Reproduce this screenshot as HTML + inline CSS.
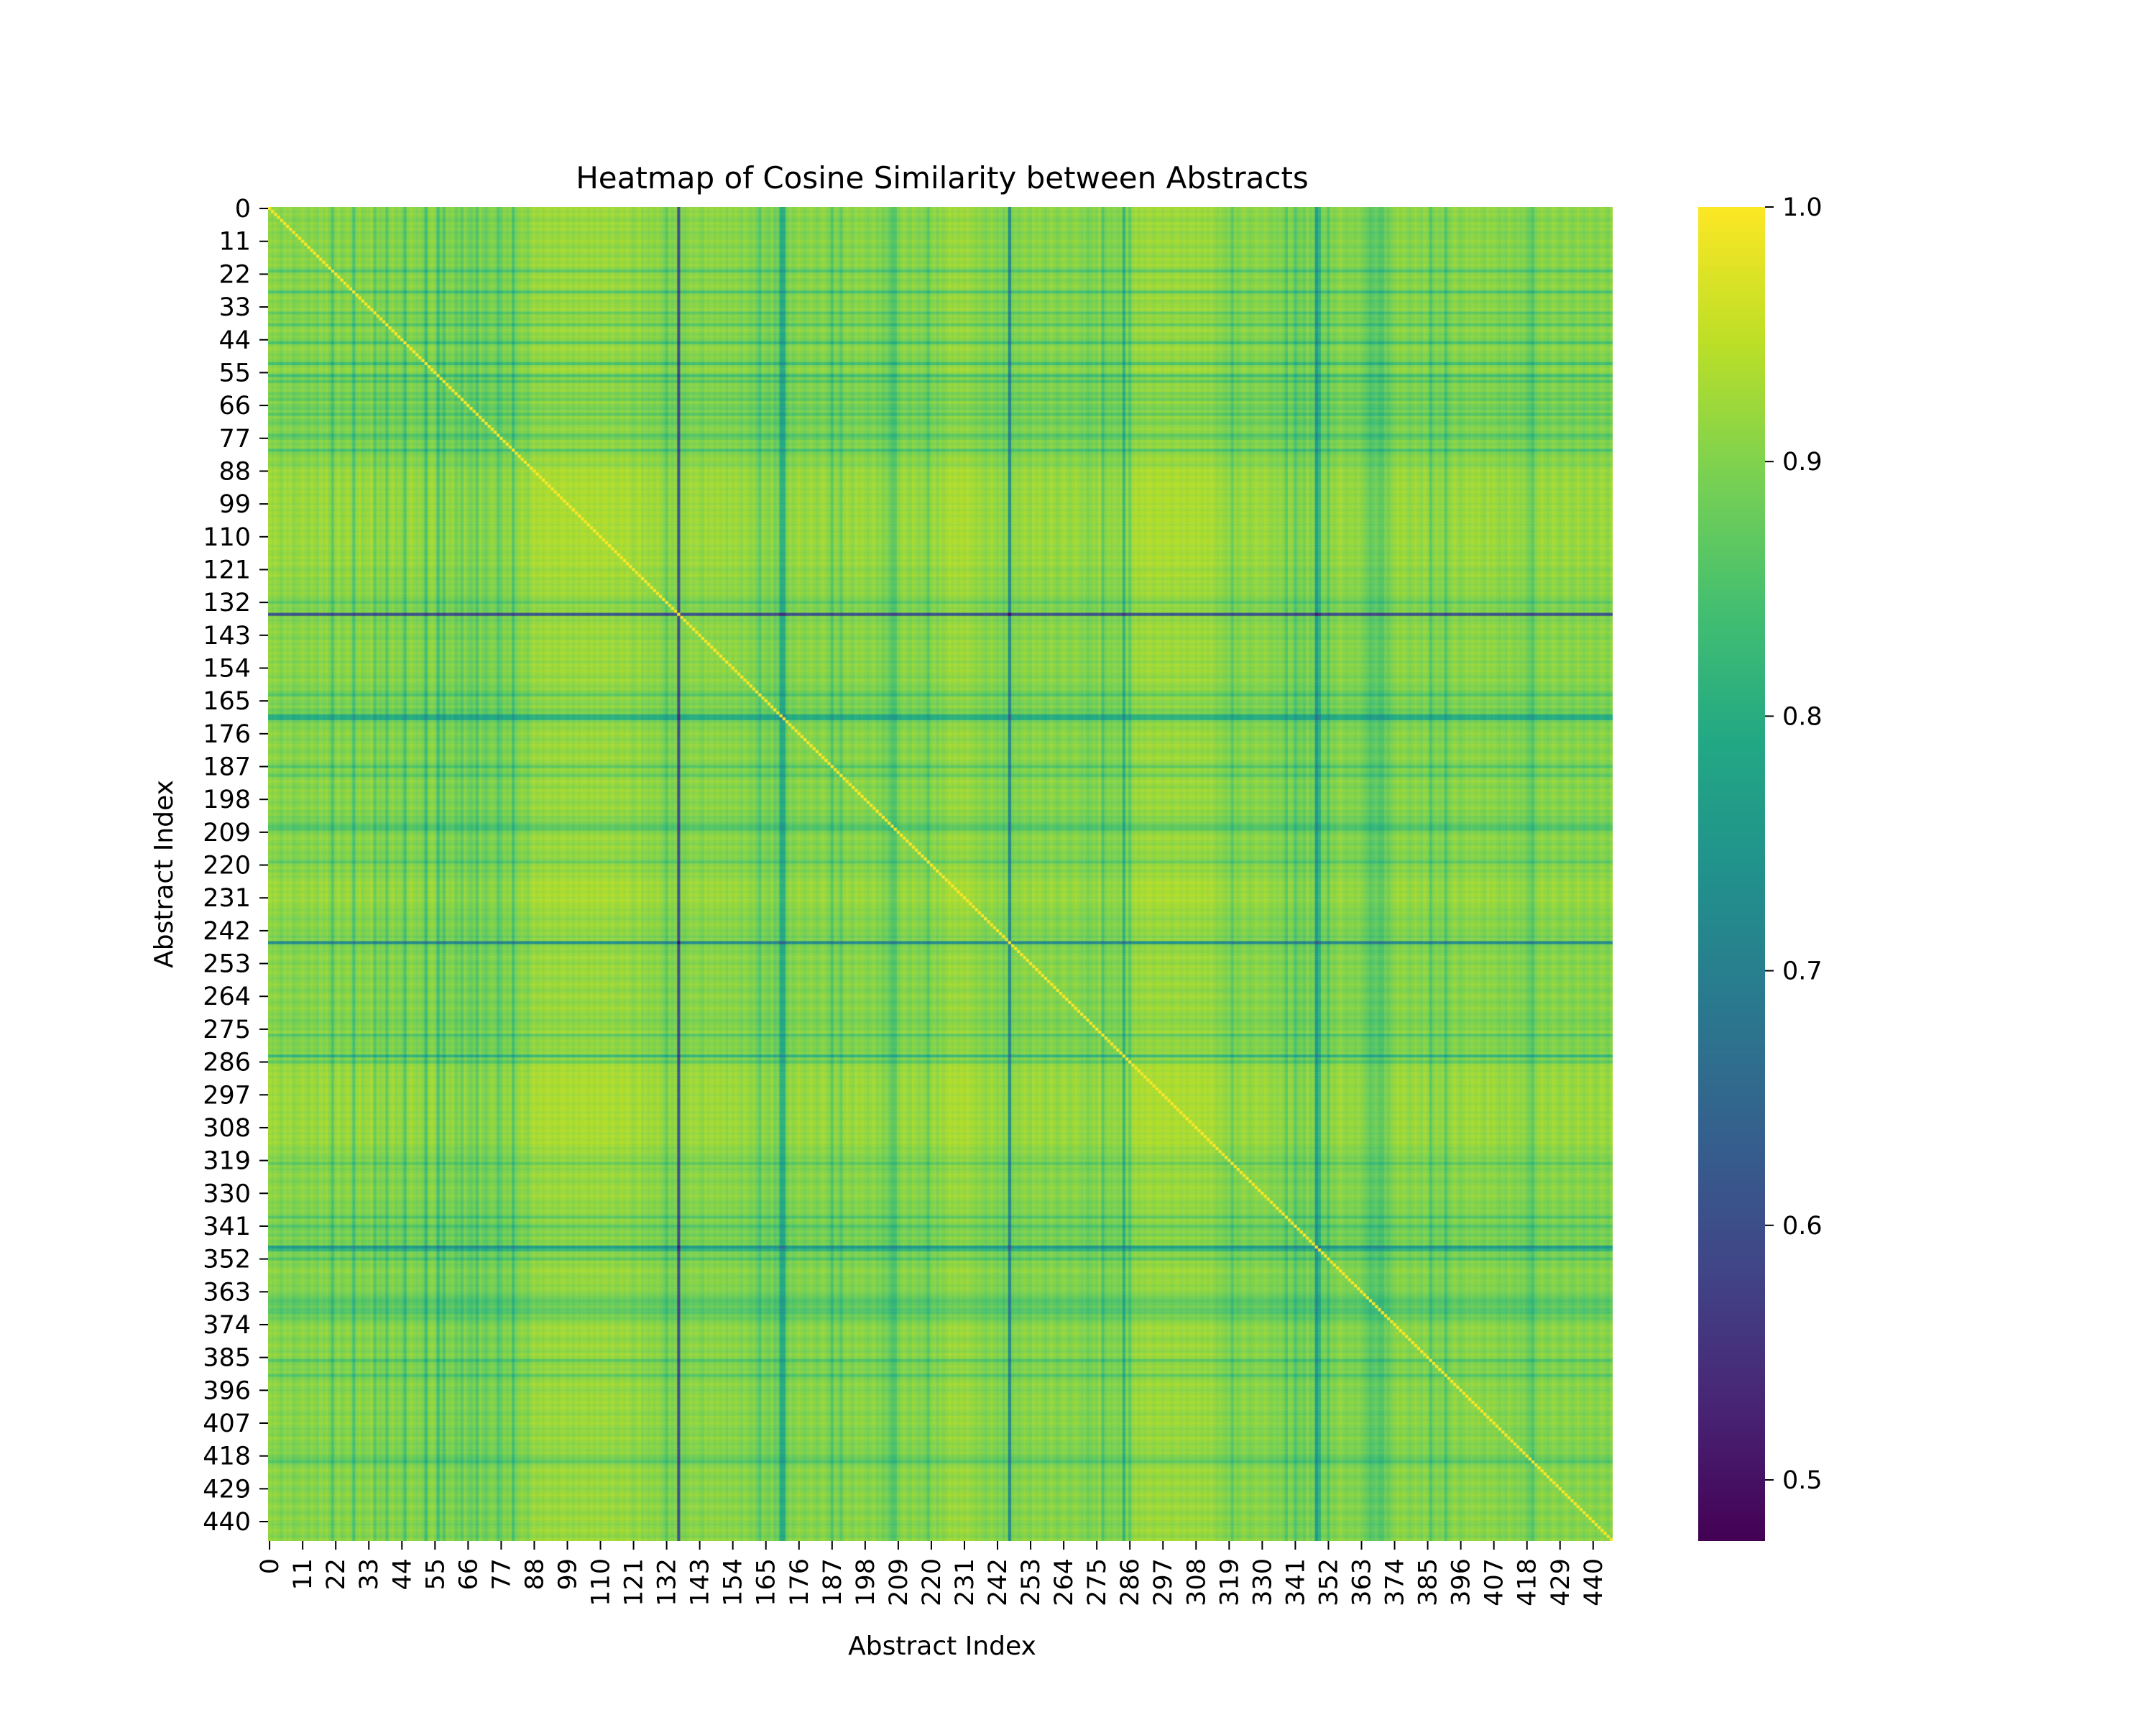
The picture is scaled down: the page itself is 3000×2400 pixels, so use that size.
<!DOCTYPE html>
<html>
<head>
<meta charset="utf-8">
<style>
  html, body { margin: 0; padding: 0; background: #ffffff; }
  #fig { position: relative; width: 3000px; height: 2400px; overflow: hidden; background: #fff; font-family: "DejaVu Sans", "Liberation Sans", sans-serif; }
  canvas { position: absolute; }
  svg { position: absolute; left: 0; top: 0; }
</style>
</head>
<body>
<div id="fig">
  <canvas id="heat" width="1871" height="1856" style="left:373px;top:288px;"></canvas>
  <canvas id="cbar" width="93" height="1856" style="left:2363px;top:288px;"></canvas>
  <svg id="axes" width="3000" height="2400">
    <text x="1311" y="262" text-anchor="middle" font-size="42" font-family="DejaVu Sans, Liberation Sans, sans-serif" fill="#000">Heatmap of Cosine Similarity between Abstracts</text>
    <text x="1311" y="2302" text-anchor="middle" font-size="36" font-family="DejaVu Sans, Liberation Sans, sans-serif" fill="#000">Abstract Index</text>
    <text transform="translate(240,1216) rotate(-90)" text-anchor="middle" font-size="36" font-family="DejaVu Sans, Liberation Sans, sans-serif" fill="#000">Abstract Index</text>
    <g id="yticks"></g>
    <g id="xticks"></g>
    <g id="cticks"></g>
  </svg>
</div>
<script>
// Per-abstract "typicality" strengths (percent); similarity(i,j) = s[i]*s[j], diagonal = 1
const strength = [
96,95,96,95,94,96,95,96,94,95,
95,96,95,94,96,95,94,96,95,96,
94,90,95,96,94,95,96,95,89,95,
96,94,95,95,96,91,95,94,95,90,
95,96,94,95,94,89,95,96,95,94,
95,94,88,95,96,95,88,94,90,95,
94,95,92,94,91,95,93,92,94,90,
95,93,92,94,95,94,90,92,95,94,
95,89,94,95,96,95,94,96,97,96,
97,96,97,97,96,97,96,97,97,96,
97,96,97,96,97,97,96,97,96,97,
96,97,97,96,97,96,96,97,96,97,
96,95,96,97,95,96,95,96,95,96,
95,94,91,95,94,95,64,95,94,95,
96,95,96,95,94,96,95,96,95,96,
95,96,94,96,95,96,95,94,96,95,
94,95,93,90,95,94,93,95,92,93,
84,84,93,95,94,95,96,95,94,95,
96,95,94,95,96,95,94,90,95,94,
91,95,96,95,94,96,95,96,95,94,
95,96,94,95,93,94,92,90,90,94,
95,96,95,94,96,95,94,95,94,91,
95,96,94,96,95,96,97,96,97,96,
97,96,97,96,96,95,96,95,94,95,
96,95,94,95,93,95,76,94,95,94,
95,96,95,94,96,95,96,95,94,95,
96,95,94,95,96,95,94,95,96,95,
94,95,93,94,95,94,96,90,94,95,
94,95,94,95,86,95,91,96,97,96,
97,96,97,97,96,97,97,96,97,97,
96,97,97,96,97,96,97,97,96,97,
96,97,96,97,96,95,96,95,94,95,
91,95,94,95,96,95,94,95,96,95,
95,96,95,94,95,94,95,94,90,95,
94,90,93,94,92,95,93,94,80,86,
94,94,90,95,94,95,96,95,94,95,
95,94,95,94,93,92,90,91,92,90,
90,93,92,94,95,96,95,96,95,94,
95,96,95,94,96,95,90,94,95,94,
95,90,94,95,96,95,94,95,96,95,
96,95,96,95,94,96,95,96,95,94,
95,94,96,95,94,95,94,95,93,92,
90,94,95,96,95,94,95,96,95,94,
95,96,95,94,95,96,95,94,95,96,
95,94,95,96,95,94,96
];
const xTickLabels = [0,11,22,33,44,55,66,77,88,99,110,121,132,143,154,165,176,187,198,209,220,231,242,253,264,275,286,297,308,319,330,341,352,363,374,385,396,407,418,429,440];
const yTickLabels = xTickLabels.slice();
const colorTicks = [0.5,0.6,0.7,0.8,0.9,1.0];
const vmin = 0.476, vmax = 1.0;

const N = strength.length;
const X0 = 373, Y0 = 288, W = 1871, H = 1856;
const xScale = i => i * W / N;
const yScale = i => i * H / N;
const cScale = v => H - (v - vmin) / (vmax - vmin) * H;

const viridis = ["#440154","#482475","#414487","#355f8d","#2a788e","#21918c","#22a884","#44bf70","#7ad151","#bddf26","#fde725"];
const vrgb = viridis.map(h => [parseInt(h.substr(1,2),16),parseInt(h.substr(3,2),16),parseInt(h.substr(5,2),16)]);
function colorOf(v) {
  let t = (v - vmin) / (vmax - vmin);
  t = Math.max(0, Math.min(1, t)) * 10;
  const k = Math.min(9, Math.floor(t)), f = t - k;
  const a = vrgb[k], b = vrgb[k+1];
  return "rgb(" + Math.round(a[0]+(b[0]-a[0])*f) + "," + Math.round(a[1]+(b[1]-a[1])*f) + "," + Math.round(a[2]+(b[2]-a[2])*f) + ")";
}
function sim(i, j) { return i === j ? 1 : strength[i] * strength[j] / 10000; }

const hc = document.getElementById('heat').getContext('2d');
for (let i = 0; i < N; i++) {
  const y = yScale(i), h = yScale(i + 1) - y;
  for (let j = 0; j < N; j++) {
    const x = xScale(j), w = xScale(j + 1) - x;
    hc.fillStyle = colorOf(sim(i, j));
    hc.fillRect(x, y, w + 0.5, h + 0.5);
  }
}

const cc = document.getElementById('cbar').getContext('2d');
for (let p = 0; p < H; p++) {
  const v = vmin + (H - p - 0.5) / H * (vmax - vmin);
  cc.fillStyle = colorOf(v);
  cc.fillRect(0, p, 93, 1);
}

const NS = "http://www.w3.org/2000/svg";
function mk(tag, attrs) { const e = document.createElementNS(NS, tag); for (const k in attrs) e.setAttribute(k, attrs[k]); return e; }
const font = "DejaVu Sans, Liberation Sans, sans-serif";

const yg = document.getElementById('yticks');
yTickLabels.forEach(lbl => {
  const y = Y0 + yScale(lbl + 0.5);
  const tk = mk('line', {x1: X0 - 12, x2: X0, y1: y, y2: y, stroke: '#000', 'stroke-width': 2});
  
  
  yg.appendChild(tk);
  const t = mk('text', {x: X0 - 24, y: y + 12, 'text-anchor': 'end', 'font-size': 35, 'font-family': font, fill: '#000'});
  
  
  t.textContent = lbl;
  yg.appendChild(t);
});

const xg = document.getElementById('xticks');
xTickLabels.forEach(lbl => {
  const x = X0 + xScale(lbl + 0.5);
  const tk = mk('line', {x1: x, x2: x, y1: Y0 + H, y2: Y0 + H + 12, stroke: '#000', 'stroke-width': 2});
  
  
  xg.appendChild(tk);
  const t = mk('text', {transform: 'translate(' + (x + 12) + ',' + (Y0 + H + 24) + ') rotate(-90)', 'text-anchor': 'end', 'font-size': 35, 'font-family': font, fill: '#000'});
  
  
  t.textContent = lbl;
  xg.appendChild(t);
});

const cg = document.getElementById('cticks');
colorTicks.forEach(v => {
  const y = Y0 + cScale(v);
  const tk = mk('line', {x1: 2456, x2: 2468, y1: y, y2: y, stroke: '#000', 'stroke-width': 2});
  
  
  cg.appendChild(tk);
  const t = mk('text', {x: 2480, y: y + 12, 'text-anchor': 'start', 'font-size': 35, 'font-family': font, fill: '#000'});
  
  
  t.textContent = v.toFixed(1);
  cg.appendChild(t);
});
</script>
</body>
</html>
